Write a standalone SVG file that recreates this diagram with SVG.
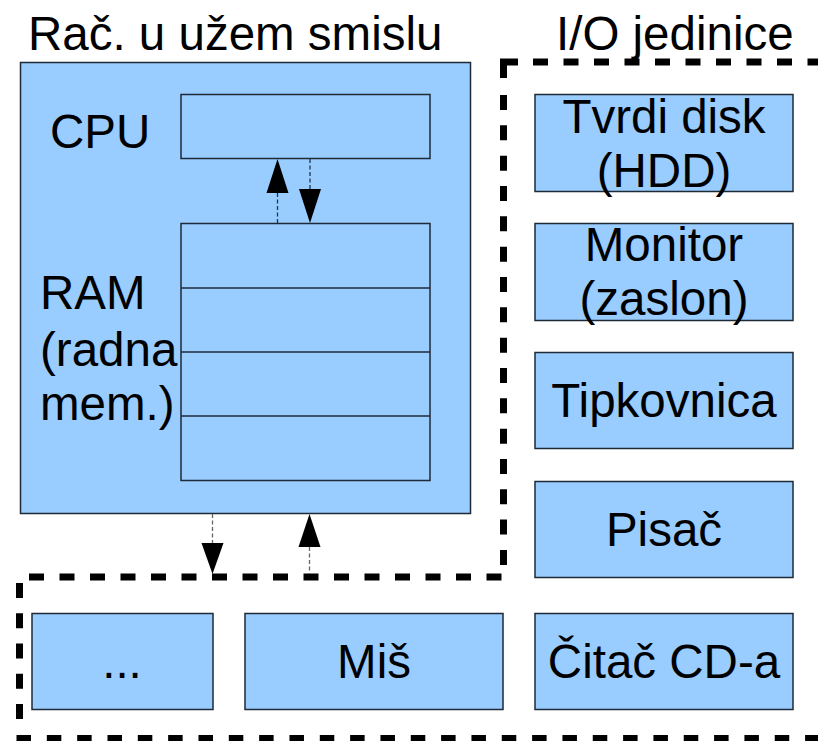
<svg xmlns="http://www.w3.org/2000/svg" width="818" height="741" viewBox="0 0 818 741">
  <style>
    .box { fill: #99ccff; stroke: #1e2a36; stroke-width: 1.5; }
    .txt { font-family: "Liberation Sans", Arial, sans-serif; font-size: 47.5px; fill: #000; }
    .mid { text-anchor: middle; }
    .frame { fill: none; stroke: #000; stroke-width: 7; stroke-dasharray: 15 15.5; }
    .shaft { fill: none; stroke: #2a3440; stroke-width: 1.3; stroke-dasharray: 4 2.5; }
    .shaft2 { fill: none; stroke: #666; stroke-width: 1.3; stroke-dasharray: 4 2.5; }
    .head { fill: #000; }
  </style>

  <rect width="818" height="741" fill="#fff"/>

  <!-- group labels -->
  <text class="txt" x="28" y="50">Rač. u užem smislu</text>
  <text class="txt" x="556" y="50">I/O jedinice</text>

  <!-- computer in the narrow sense -->
  <g id="computer">
    <rect class="box" x="20.5" y="62.5" width="450" height="451"/>
  </g>

  <g id="cpu">
    <rect class="box" x="181" y="94.5" width="249" height="64"/>
    <text class="txt" x="50" y="148">CPU</text>
  </g>

  <g id="ram">
    <rect class="box" x="181" y="223.5" width="249" height="257"/>
    <line x1="181" y1="288" x2="430" y2="288" stroke="#1e2a36" stroke-width="1.5"/>
    <line x1="181" y1="352" x2="430" y2="352" stroke="#1e2a36" stroke-width="1.5"/>
    <line x1="181" y1="416" x2="430" y2="416" stroke="#1e2a36" stroke-width="1.5"/>
    <text class="txt" x="40" y="309">RAM</text>
    <text class="txt" x="40" y="366">(radna</text>
    <text class="txt" x="40" y="420">mem.)</text>
  </g>

  <!-- I/O devices -->
  <g id="hdd">
    <rect class="box" x="535" y="94.5" width="258" height="97"/>
    <text class="txt mid" x="664" y="133">Tvrdi disk</text>
    <text class="txt mid" x="664" y="187">(HDD)</text>
  </g>
  <g id="monitor">
    <rect class="box" x="535" y="223.5" width="258" height="97"/>
    <text class="txt mid" x="664" y="261">Monitor</text>
    <text class="txt mid" x="664" y="315">(zaslon)</text>
  </g>
  <g id="keyboard">
    <rect class="box" x="535" y="352.5" width="258" height="96"/>
    <text class="txt mid" x="664" y="417">Tipkovnica</text>
  </g>
  <g id="printer">
    <rect class="box" x="535" y="481.5" width="258" height="96"/>
    <text class="txt mid" x="664" y="546">Pisač</text>
  </g>
  <g id="cdreader">
    <rect class="box" x="535" y="613.5" width="258" height="96"/>
    <text class="txt mid" x="664" y="678">Čitač CD-a</text>
  </g>
  <g id="mouse">
    <rect class="box" x="245" y="613.5" width="258" height="96"/>
    <text class="txt mid" x="374" y="678">Miš</text>
  </g>
  <g id="other">
    <rect class="box" x="32" y="613.5" width="181" height="96"/>
    <text class="txt mid" x="122" y="678">...</text>
  </g>

  <!-- dashed boundary of the I/O area -->
  <g id="io-frame">
    <path d="M503.5,78 V62 H518" fill="none" stroke="#000" stroke-width="7" stroke-linejoin="miter"/>
    <line class="frame" x1="533" y1="62" x2="818" y2="62"/>
    <line class="frame" x1="503.5" y1="95" x2="503.5" y2="566" style="stroke-dasharray:15 15.33"/>
    <line class="frame" x1="501.5" y1="577" x2="29" y2="577"/>
    <line class="frame" x1="19.5" y1="583" x2="19.5" y2="720" style="stroke-dasharray:15 15.25"/>
    <line class="frame" x1="16.5" y1="738.5" x2="818" y2="738.5" style="stroke-dasharray:14.5 15.83"/>
  </g>

  <!-- data paths -->
  <g id="connectors">
    <line class="shaft" x1="277.5" y1="223" x2="277.5" y2="193"/>
    <polygon class="head" points="277.5,159 266.5,193 288.5,193"/>
    <line class="shaft" x1="310" y1="159" x2="310" y2="189"/>
    <polygon class="head" points="299,189 321,189 310,223"/>
    <line class="shaft2" x1="212.5" y1="514" x2="212.5" y2="543"/>
    <polygon class="head" points="201.5,543 223.5,543 212.5,574"/>
    <line class="shaft2" x1="309.5" y1="547" x2="309.5" y2="574"/>
    <polygon class="head" points="309.5,514 298.5,547 320.5,547"/>
  </g>
</svg>
